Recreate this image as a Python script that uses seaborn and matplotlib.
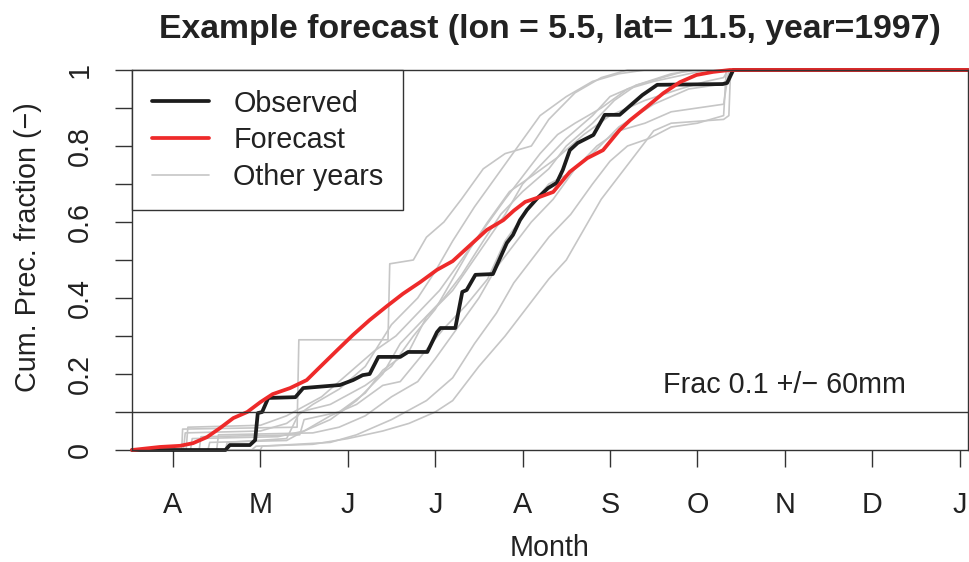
import matplotlib
matplotlib.use("Agg")
import matplotlib.pyplot as plt
import seaborn as sns
import pandas as pd
import numpy as np
from matplotlib.lines import Line2D

# ---------------- data (x in months: 4 = 1 April, 13 = 1 January) ----------------
month_ticks = [4, 5, 6, 7, 8, 9, 10, 11, 12, 13]
month_labels = ["A", "M", "J", "J", "A", "S", "O", "N", "D", "J"]
x_range = [3.531, 13.096]

obs_x = [3.531, 4.60, 4.65, 4.88, 4.94, 4.97, 5.02, 5.09, 5.40, 5.49, 5.91, 6.06, 6.17, 6.25,
         6.35, 6.60, 6.69, 6.91, 7.02, 7.06, 7.23, 7.31, 7.36, 7.46, 7.66, 7.82, 7.89, 7.97,
         8.05, 8.17, 8.29, 8.39, 8.46, 8.54, 8.63, 8.81, 8.94, 9.11, 9.37, 9.54, 10.29, 10.34,
         10.41, 13.096]
obs_y = [0, 0, 0.013, 0.013, 0.026, 0.097, 0.10, 0.137, 0.139, 0.163, 0.171, 0.184, 0.197, 0.20,
         0.245, 0.245, 0.258, 0.258, 0.31, 0.321, 0.321, 0.416, 0.421, 0.461, 0.463, 0.545, 0.566,
         0.605, 0.632, 0.663, 0.689, 0.703, 0.737, 0.789, 0.808, 0.829, 0.882, 0.882, 0.934, 0.961,
         0.963, 0.966, 1.0, 1.0]

fc_x = [3.531, 3.85, 4.08, 4.23, 4.39, 4.54, 4.69, 4.85, 5.00, 5.14, 5.34, 5.53, 5.68, 5.88, 6.06,
        6.25, 6.45, 6.63, 6.83, 7.02, 7.20, 7.40, 7.59, 7.78, 7.90, 8.03, 8.16, 8.35, 8.54, 8.74,
        8.92, 9.11, 9.23, 9.42, 9.61, 9.80, 9.99, 10.18, 10.37, 13.096]
fc_y = [0, 0.008, 0.011, 0.018, 0.034, 0.058, 0.084, 0.10, 0.126, 0.147, 0.163, 0.184, 0.218,
        0.263, 0.303, 0.342, 0.379, 0.411, 0.442, 0.474, 0.497, 0.539, 0.579, 0.605, 0.63, 0.653,
        0.663, 0.679, 0.732, 0.768, 0.789, 0.842, 0.868, 0.903, 0.939, 0.968, 0.987, 0.995, 1.0, 1.0]

other_x = [
    [3.531, 4.10, 4.11, 5.42, 5.44, 6.46, 6.48, 6.75, 6.90, 7.10, 7.30, 7.55, 7.80, 8.10, 8.30, 8.60, 8.90, 9.20, 13.096],
    [3.531, 4.12, 4.14, 5.00, 5.30, 5.60, 5.90, 6.20, 6.50, 6.80, 7.00, 7.20, 7.45, 7.70, 7.95, 8.20, 8.50, 8.80, 9.10, 9.40, 13.096],
    [3.531, 4.30, 4.32, 5.45, 5.50, 5.90, 6.20, 6.40, 6.70, 6.90, 7.20, 7.50, 7.80, 8.00, 8.25, 8.50, 8.80, 9.00, 9.30, 9.70, 10.00, 13.096],
    [3.531, 4.90, 4.95, 5.60, 6.00, 6.40, 6.70, 7.00, 7.20, 7.50, 7.80, 8.00, 8.30, 8.50, 8.70, 8.90, 9.10, 9.30, 9.50, 9.70, 10.30, 10.36, 10.38, 13.096],
    [3.531, 4.40, 4.42, 5.30, 5.50, 5.80, 6.10, 6.40, 6.60, 6.85, 7.10, 7.35, 7.60, 7.80, 8.05, 8.30, 8.55, 8.80, 9.10, 9.50, 9.90, 10.20, 10.35, 10.37, 13.096],
    [3.531, 4.15, 4.17, 5.00, 5.30, 5.70, 6.00, 6.30, 6.55, 6.80, 7.05, 7.30, 7.55, 7.80, 8.00, 8.20, 8.40, 8.60, 8.90, 9.20, 9.50, 9.90, 10.10, 13.096],
    [3.531, 4.60, 4.62, 5.30, 5.45, 5.80, 6.20, 6.50, 6.75, 7.00, 7.20, 7.40, 7.60, 7.85, 8.10, 8.40, 8.70, 9.00, 9.40, 9.80, 10.10, 10.30, 10.35, 13.096],
    [3.531, 4.50, 4.52, 5.60, 5.90, 6.20, 6.50, 6.80, 7.00, 7.25, 7.50, 7.70, 7.90, 8.10, 8.35, 8.60, 8.85, 9.10, 9.40, 9.70, 10.30, 10.36, 13.096],
    [3.531, 4.20, 4.22, 5.20, 5.50, 5.80, 6.10, 6.40, 6.60, 6.85, 7.10, 7.30, 7.55, 7.75, 8.00, 8.30, 8.50, 8.80, 9.05, 9.30, 9.60, 9.90, 13.096],
    [3.531, 5.00, 5.02, 5.80, 6.10, 6.50, 6.90, 7.20, 7.45, 7.70, 7.90, 8.10, 8.30, 8.55, 8.80, 9.00, 9.20, 9.45, 9.70, 10.00, 10.30, 10.33, 13.096],
]
other_y = [
    [0, 0, 0.055, 0.06, 0.29, 0.29, 0.49, 0.50, 0.56, 0.60, 0.66, 0.74, 0.78, 0.80, 0.87, 0.94, 0.98, 1.0, 1.0],
    [0, 0, 0.045, 0.05, 0.07, 0.12, 0.16, 0.22, 0.33, 0.40, 0.47, 0.55, 0.64, 0.72, 0.80, 0.88, 0.93, 0.97, 0.99, 1.0, 1.0],
    [0, 0, 0.035, 0.04, 0.08, 0.10, 0.15, 0.21, 0.26, 0.35, 0.42, 0.52, 0.62, 0.70, 0.76, 0.82, 0.88, 0.93, 0.96, 0.99, 1.0, 1.0],
    [0, 0, 0.01, 0.015, 0.03, 0.05, 0.07, 0.10, 0.13, 0.22, 0.30, 0.36, 0.45, 0.50, 0.58, 0.66, 0.72, 0.78, 0.84, 0.86, 0.87, 0.88, 1.0, 1.0],
    [0, 0, 0.02, 0.025, 0.05, 0.09, 0.12, 0.17, 0.18, 0.25, 0.32, 0.38, 0.45, 0.55, 0.63, 0.70, 0.73, 0.78, 0.85, 0.91, 0.95, 0.96, 0.97, 1.0, 1.0],
    [0, 0, 0.06, 0.065, 0.09, 0.14, 0.20, 0.26, 0.30, 0.36, 0.42, 0.50, 0.58, 0.66, 0.72, 0.78, 0.83, 0.86, 0.90, 0.95, 0.97, 0.99, 1.0, 1.0],
    [0, 0, 0.02, 0.03, 0.10, 0.12, 0.17, 0.22, 0.30, 0.37, 0.45, 0.53, 0.60, 0.68, 0.72, 0.77, 0.83, 0.88, 0.92, 0.95, 0.97, 0.98, 1.0, 1.0],
    [0, 0, 0.04, 0.045, 0.06, 0.09, 0.14, 0.18, 0.24, 0.32, 0.40, 0.48, 0.54, 0.60, 0.66, 0.74, 0.80, 0.84, 0.86, 0.89, 0.91, 1.0, 1.0],
    [0, 0, 0.03, 0.035, 0.05, 0.08, 0.13, 0.20, 0.28, 0.34, 0.40, 0.46, 0.55, 0.62, 0.68, 0.74, 0.80, 0.86, 0.92, 0.96, 0.98, 1.0, 1.0],
    [0, 0, 0.01, 0.02, 0.04, 0.08, 0.13, 0.19, 0.28, 0.36, 0.44, 0.50, 0.56, 0.62, 0.70, 0.76, 0.80, 0.82, 0.85, 0.86, 0.88, 1.0, 1.0],
]

title = "Example forecast (lon = 5.5, lat= 11.5, year=1997)"
legend_labels = ["Observed", "Forecast", "Other years"]
annotation = "Frac 0.1 +/\u2212 60mm"
threshold = 0.1

# ---------------- style ----------------
sns.set_style("ticks")
plt.rcParams["font.family"] = ["Liberation Sans", "DejaVu Sans"]
plt.rcParams["axes.unicode_minus"] = True

FS = 20.7
AX_COL = "#333333"
GRAY = "#c6c6c6"
RED = "#ee2a2a"
BLACK = "#1c1c1c"
LW_MAIN = 2.7
LW_GRAY = 1.2

fig = plt.figure(figsize=(9.69, 5.62), dpi=100)
ax = fig.add_axes([132 / 969, 1 - 450 / 562, 836 / 969, 380 / 562])

rows = []
for i, (xs, ys) in enumerate(zip(other_x, other_y)):
    for xv, yv in zip(xs, ys):
        rows.append({"year": i, "month": xv, "frac": yv})
gray_df = pd.DataFrame(rows)
obs_df = pd.DataFrame({"month": obs_x, "frac": obs_y})
fc_df = pd.DataFrame({"month": fc_x, "frac": fc_y})

sns.lineplot(data=gray_df, x="month", y="frac", units="year", estimator=None, sort=False,
             color=GRAY, lw=LW_GRAY, legend=False, ax=ax)
sns.lineplot(data=obs_df, x="month", y="frac", estimator=None, sort=False,
             color=BLACK, lw=LW_MAIN, legend=False, ax=ax)
sns.lineplot(data=fc_df, x="month", y="frac", estimator=None, sort=False,
             color=RED, lw=LW_MAIN, legend=False, ax=ax)
for ln in ax.lines:
    ln.set_clip_on(False)

ax.axhline(threshold, color=AX_COL, lw=1.0, zorder=5)

ax.set_xlim(*x_range)
ax.set_ylim(0, 1)
ax.set_xticks(month_ticks)
ax.set_xticklabels(month_labels)
yt = [round(v, 1) for v in np.arange(0, 1.01, 0.1)]
ax.set_yticks(yt)
ax.set_yticklabels(["0" if v == 0 else ("1" if v == 1 else (f"{v:.1f}" if int(round(v * 10)) % 2 == 0 else "")) for v in yt])

for s in ax.spines.values():
    s.set_visible(True)
    s.set_color(AX_COL)
    s.set_linewidth(1.0)
    s.set_zorder(6)

ax.tick_params(axis="both", direction="out", length=12.2, width=1.0, color=AX_COL,
               labelsize=FS, labelcolor="#222222")
ax.tick_params(axis="x", pad=17)
ax.tick_params(axis="y", pad=15)
for lab in ax.get_yticklabels():
    lab.set_rotation(90)
    lab.set_va("center")
    lab.set_ha("right")

ax.set_xlabel("Month", fontsize=FS, color="#222222", labelpad=11)
ax.set_ylabel("Cum. Prec. fraction (\u2212)", fontsize=FS, color="#222222")
ax.yaxis.set_label_coords(-0.1077, 0.534)
ax.set_title(title, fontsize=24.3, fontweight="bold", color="#222222", pad=23)

ax.text(11, 0.171, annotation, ha="center", va="center", fontsize=FS, color="#222222")

handles = [Line2D([], [], color=BLACK, lw=LW_MAIN),
           Line2D([], [], color=RED, lw=LW_MAIN),
           Line2D([], [], color=GRAY, lw=LW_GRAY)]
leg = ax.legend(handles, legend_labels, loc="upper left", bbox_to_anchor=(0, 1),
                borderaxespad=0, fontsize=FS, frameon=True, fancybox=False,
                framealpha=1, edgecolor=AX_COL, handlelength=2.0, handletextpad=0.85,
                borderpad=0.68, labelspacing=0.3)
leg.get_frame().set_linewidth(1.0)
leg.set_zorder(7)
for t in leg.get_texts():
    t.set_color("#222222")

fig.savefig("out.png", dpi=100, facecolor="white")
